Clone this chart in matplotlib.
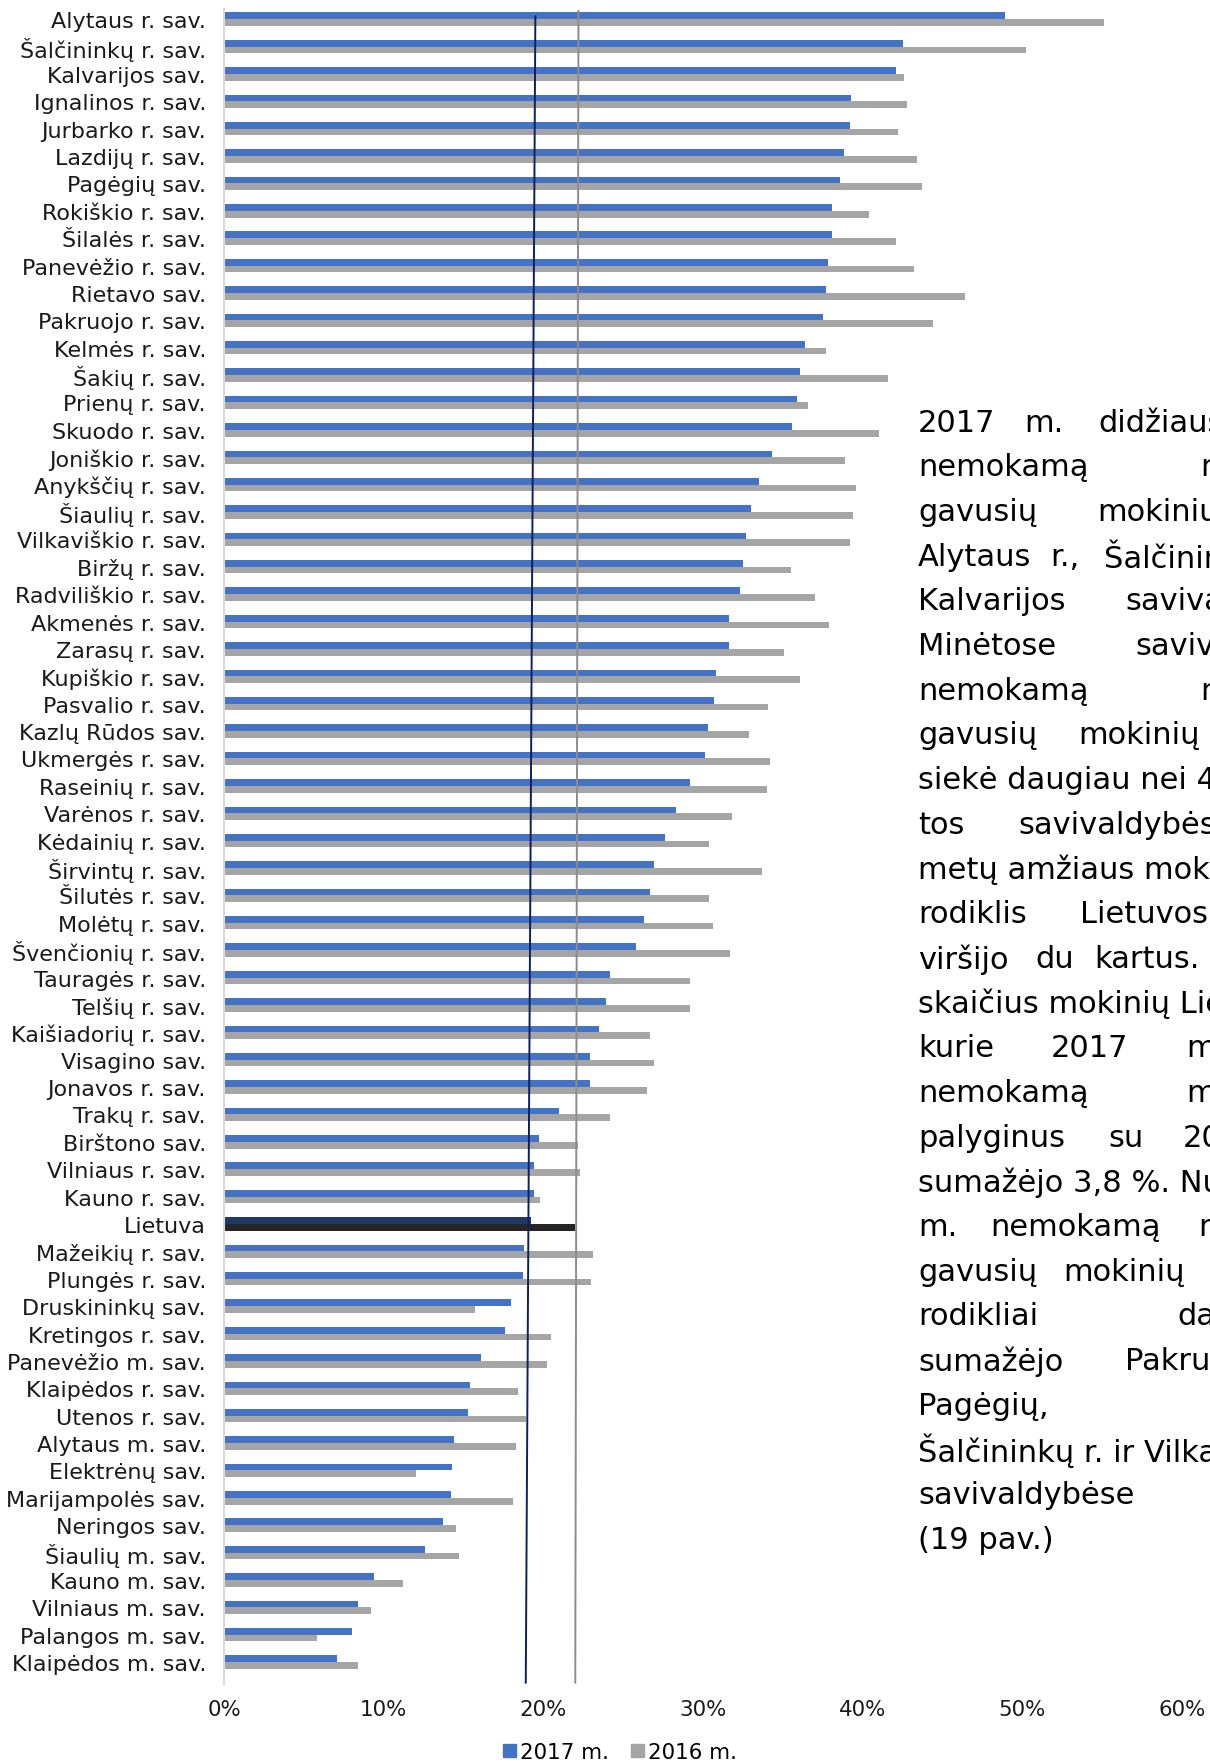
import matplotlib.pyplot as plt
from matplotlib.patches import Patch
import numpy as np

# savivaldybes, nuo didziausio 2017 m. rodiklio
savivaldybes = ['Alytaus r. sav.', 'Šalčininkų r. sav.', 'Kalvarijos sav.', 'Ignalinos r. sav.',
                'Jurbarko r. sav.', 'Lazdijų r. sav.', 'Pagėgių sav.', 'Rokiškio r. sav.',
                'Šilalės r. sav.', 'Panevėžio r. sav.', 'Rietavo sav.', 'Pakruojo r. sav.',
                'Kelmės r. sav.', 'Šakių r. sav.', 'Prienų r. sav.', 'Skuodo r. sav.',
                'Joniškio r. sav.', 'Anykščių r. sav.', 'Šiaulių r. sav.', 'Vilkaviškio r. sav.',
                'Biržų r. sav.', 'Radviliškio r. sav.', 'Akmenės r. sav.', 'Zarasų r. sav.',
                'Kupiškio r. sav.', 'Pasvalio r. sav.', 'Kazlų Rūdos sav.', 'Ukmergės r. sav.',
                'Raseinių r. sav.', 'Varėnos r. sav.', 'Kėdainių r. sav.', 'Širvintų r. sav.',
                'Šilutės r. sav.', 'Molėtų r. sav.', 'Švenčionių r. sav.', 'Tauragės r. sav.',
                'Telšių r. sav.', 'Kaišiadorių r. sav.', 'Visagino sav.', 'Jonavos r. sav.',
                'Trakų r. sav.', 'Birštono sav.', 'Vilniaus r. sav.', 'Kauno r. sav.',
                'Lietuva', 'Mažeikių r. sav.', 'Plungės r. sav.', 'Druskininkų sav.',
                'Kretingos r. sav.', 'Panevėžio m. sav.', 'Klaipėdos r. sav.', 'Utenos r. sav.',
                'Alytaus m. sav.', 'Elektrėnų sav.', 'Marijampolės sav.', 'Neringos sav.',
                'Šiaulių m. sav.', 'Kauno m. sav.', 'Vilniaus m. sav.', 'Palangos m. sav.',
                'Klaipėdos m. sav.']

# procentais
m2017 = [48.9, 42.5, 42.1, 39.3, 39.2, 38.8, 38.6, 38.1, 38.1, 37.8, 37.7, 37.5,
         36.4, 36.1, 35.9, 35.6, 34.3, 33.5, 33.0, 32.7, 32.5, 32.3, 31.6, 31.6,
         30.8, 30.7, 30.3, 30.1, 29.2, 28.3, 27.6, 26.9, 26.7, 26.3, 25.8, 24.2,
         23.9, 23.5, 22.9, 22.9, 21.0, 19.7, 19.4, 19.4, 19.2, 18.8, 18.7, 18.0,
         17.6, 16.1, 15.4, 15.3, 14.4, 14.3, 14.2, 13.7, 12.6, 9.4, 8.4, 8.0, 7.1]
m2016 = [55.1, 50.2, 42.6, 42.8, 42.2, 43.4, 43.7, 40.4, 42.1, 43.2, 46.4, 44.4,
         37.7, 41.6, 36.6, 41.0, 38.9, 39.6, 39.4, 39.2, 35.5, 37.0, 37.9, 35.1,
         36.1, 34.1, 32.9, 34.2, 34.0, 31.8, 30.4, 33.7, 30.4, 30.6, 31.7, 29.2,
         29.2, 26.7, 26.9, 26.5, 24.2, 22.2, 22.3, 19.8, 22.0, 23.1, 23.0, 15.7,
         20.5, 20.2, 18.4, 18.9, 18.3, 12.0, 18.1, 14.5, 14.7, 11.2, 9.2, 5.8, 8.4]

# Lietuvos vidurkio linijos (virsuje, apacioje)
linija_2017 = [19.5, 18.9]
linija_2016 = [22.2, 22.0]

tekstas = [
    [('2017', 918), ('m.', 1024), ('didžiausias', 1098)],
    [('nemokamą', 918), ('maitinimą', 1200)],
    [('gavusių', 918), ('mokinių', 1097)],
    [('Alytaus', 918), ('r.,', 1050), ('Šalčininkų', 1104)],
    [('Kalvarijos', 918), ('savivaldybėse.', 1125)],
    [('Minėtose', 918), ('savivaldybėse', 1135)],
    [('nemokamą', 918), ('maitinimą', 1200)],
    [('gavusių', 918), ('mokinių', 1078)],
    [('siekė daugiau nei 40', 918)],
    [('tos', 918), ('savivaldybės', 1018)],
    [('metų amžiaus mokinių', 918)],
    [('rodiklis', 918), ('Lietuvos', 1080)],
    [('viršijo', 918), ('du', 1035), ('kartus.', 1094)],
    [('skaičius mokinių Lietuvoje', 918)],
    [('kurie', 918), ('2017', 1051), ('m.', 1186)],
    [('nemokamą', 918), ('maitinimą', 1186)],
    [('palyginus', 918), ('su', 1108), ('2016', 1183)],
    [('sumažėjo 3,8 %. Nuo', 918)],
    [('m.', 918), ('nemokamą', 990), ('maitinimą', 1198)],
    [('gavusių', 918), ('mokinių', 1063)],
    [('rodikliai', 918), ('daugiausiai', 1177)],
    [('sumažėjo', 918), ('Pakruojo', 1125)],
    [('Pagėgių,', 918)],
    [('Šalčininkų r. ir Vilkaviškio', 918)],
    [('savivaldybėse', 918)],
    [('(19 pav.)', 918)],
]

W, H = 1210, 1765
fig = plt.figure(figsize=(W / 100, H / 100), dpi=100)
ax = fig.add_axes([224 / W, 1 - 1685 / H, (1182 - 224) / W, (1685 - 10) / H])

y = np.arange(len(savivaldybes))
h = 0.245
c17 = ['#203864' if s == 'Lietuva' else '#4472C4' for s in savivaldybes]
c16 = ['#262626' if s == 'Lietuva' else '#A5A5A5' for s in savivaldybes]
ax.barh(y - h / 2, np.array(m2017) / 100, height=h, color=c17, zorder=2)
ax.barh(y + h / 2, np.array(m2016) / 100, height=h, color=c16, zorder=2)

ax.plot(np.array(linija_2017) / 100, [-0.1, 60.75], color='#0B2060', lw=1.4, zorder=3)
ax.plot(np.array(linija_2016) / 100, [-0.3, 60.75], color='#8C8C8C', lw=1.4, zorder=3)

ax.set_ylim(60.8, -0.37)
ax.set_xlim(0, 0.6)
ax.set_yticks(y)
ax.set_yticklabels(savivaldybes, fontsize=16, color='#1a1a1a')
ax.set_xticks(np.arange(0, 0.61, 0.1))
ax.set_xticklabels([f'{int(round(v * 100))}%' for v in np.arange(0, 0.61, 0.1)],
                   fontsize=15.4, color='#1a1a1a')
ax.tick_params(axis='y', length=0, pad=13)
ax.tick_params(axis='x', length=0, pad=11)
for s in ['top', 'right', 'bottom']:
    ax.spines[s].set_visible(False)
ax.spines['left'].set_color('#D9D9D9')
ax.spines['left'].set_linewidth(1.5)

handles = [Patch(color='#4472C4', label='2017 m.'), Patch(color='#A5A5A5', label='2016 m.')]
fig.legend(handles=handles, loc='center', bbox_to_anchor=(620 / W, 1 - 1753 / H), ncol=2,
           frameon=False, fontsize=15.4, handlelength=0.6, handleheight=0.6,
           handletextpad=0.2, columnspacing=1.0)

# tekstas desineje (nukirstas ties krastu)
for i, eilute in enumerate(tekstas):
    yy = 1 - (423 + i * 44.7) / H
    for zodis, xx in eilute:
        fig.text(xx / W, yy, zodis, fontsize=22, va='center', ha='left', color='black')

plt.savefig('out.png', dpi=100)
